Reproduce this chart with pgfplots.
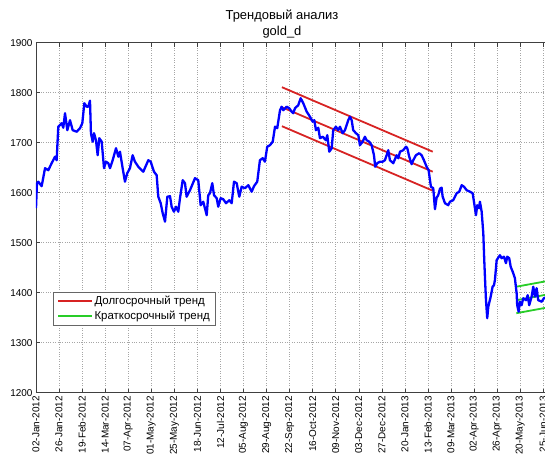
\documentclass[border=0pt]{standalone}
\usepackage{fontspec}
\setmainfont{Liberation Sans}
\usepackage{pgfplots}
\pgfplotsset{compat=1.18}
\definecolor{mred}{RGB}{215,35,35}
\definecolor{mgreen}{RGB}{40,205,40}
\definecolor{mblue}{RGB}{0,0,255}
\pgfplotstableread{
d v
0 1569
1.0 1619
2.4 1622
5.9 1613
9.4 1649
12.8 1645
16.3 1659
19.8 1672
21.5 1665
23.2 1732
26.7 1739
28.4 1730
30.2 1759
32.6 1725
35.4 1745
38.2 1725
42.4 1722
45.8 1729
48.2 1739
50.3 1779
52.8 1772
54.4 1772
56.2 1784
57.2 1719
59.0 1702
60.4 1719
62.4 1705
64.2 1675
65.9 1709
68.4 1702
70.8 1649
72.9 1662
75.3 1659
77.0 1649
79.8 1665
83.3 1689
85.7 1672
87.4 1682
90.2 1649
92.6 1622
95.0 1639
97.8 1649
100.6 1675
103.0 1662
106.5 1652
111.7 1642
116.9 1665
119.4 1662
122.8 1642
125.6 1635
127.3 1592
129.8 1579
131.9 1559
134.3 1542
136.7 1592
139.5 1593
141.2 1572
143.6 1562
145.7 1572
148.1 1562
149.9 1589
152.7 1625
155.1 1619
156.8 1592
160.3 1605
165.5 1629
168.9 1625
171.4 1575
174.1 1582
177.7 1555
179.3 1595
181.1 1599
183.5 1619
185.3 1595
188.1 1589
189.7 1572
192.2 1589
194.9 1587
197.8 1579
201.2 1585
203.7 1579
206.1 1622
208.9 1619
211.6 1592
214.1 1612
217.5 1609
221.0 1615
224.5 1602
226.9 1613
230.3 1622
233.1 1665
236.0 1669
238.3 1662
240.7 1692
243.5 1695
246.4 1702
248.8 1732
251.1 1729
254.0 1765
255.7 1772
257.4 1765
260.9 1772
263.6 1769
266.1 1762
267.8 1759
269.6 1769
273.0 1775
275.5 1789
278.2 1779
281.8 1762
285.2 1752
288.0 1742
289.7 1745
291.4 1725
293.8 1730
295.6 1709
298.4 1712
301.8 1705
303.2 1715
305.3 1682
307.8 1689
309.4 1725
312.2 1732
314.6 1725
316.4 1732
319.2 1719
321.6 1725
325.0 1745
326.8 1752
328.6 1745
330.2 1725
333.1 1719
335.5 1715
337.2 1695
340.0 1702
342.4 1712
344.2 1705
346.9 1702
349.4 1695
351.8 1675
353.1 1652
355.2 1659
358.0 1662
360.8 1662
363.2 1665
365.0 1675
366.7 1685
368.4 1665
371.9 1659
375.4 1675
377.1 1669
378.9 1682
382.3 1685
385.1 1692
386.5 1689
388.5 1672
391.0 1657
392.7 1665
395.5 1675
398.9 1679
401.4 1675
403.8 1665
406.6 1652
408.7 1645
410.1 1625
411.1 1612
413.5 1609
415.3 1567
417.0 1590
418.7 1595
420.5 1608
422.2 1610
423.3 1592
425.7 1579
429.1 1575
430.9 1582
434.3 1585
437.9 1599
440.6 1602
443.1 1615
445.5 1612
448.3 1605
451.7 1602
454.5 1599
455.9 1582
458.0 1555
459.3 1575
461.1 1569
462.1 1582
463.9 1562
465.6 1519
466.6 1465
467.6 1419
468.4 1385
469.7 1349
470.8 1372
473.3 1392
475.3 1412
476.7 1415
477.7 1425
479.5 1465
482.9 1475
484.7 1469
487.1 1472
489.2 1459
490.5 1472
492.6 1469
494.1 1452
496.2 1442
498.5 1429
500.3 1399
500.9 1375
502.4 1362
503.7 1382
505.5 1375
507.2 1389
510.0 1385
511.8 1395
513.4 1375
515.9 1392
517.6 1412
519.4 1392
521.1 1409
522.8 1385
526.4 1382
528.7 1389
532.0 1392
}\gold
\begin{document}
\begin{tikzpicture}[x=1bp,y=1bp]
\begin{axis}[
  at={(0,0)}, anchor=south west,
  scale only axis, width=513bp, height=350bp,
  xmin=0, xmax=534, ymin=1200, ymax=1900,
  xtick={0,24,...,528},
  xticklabels={02-Jan-2012,26-Jan-2012,19-Feb-2012,14-Mar-2012,07-Apr-2012,01-May-2012,25-May-2012,18-Jun-2012,12-Jul-2012,05-Aug-2012,29-Aug-2012,22-Sep-2012,16-Oct-2012,09-Nov-2012,03-Dec-2012,27-Dec-2012,20-Jan-2013,13-Feb-2013,09-Mar-2013,02-Apr-2013,26-Apr-2013,20-May-2013,25-Jun-2013},
  ytick={1200,1300,...,1900},
  /pgf/number format/1000 sep={},
  /pgf/number format/assume math mode=true,
  x tick label style={rotate=90, anchor=east, font=\fontsize{10}{12}\selectfont},
  y tick label style={font=\fontsize{10}{12}\selectfont},
  tick align=inside, major tick length=4bp,
  tick style={black!75, line width=0.5bp},
  axis line style={black!75, line width=0.6bp},
  grid=major, grid style={dotted, black!35, line width=0.5bp},
  title={Трендовый анализ\\gold\_d},
  title style={at={(0.4795,1)}, anchor=south, align=center, inner sep=0pt, yshift=-1.5bp, font=\fontsize{13}{16}\selectfont},
  legend style={at={(rel axis cs:0.0331,0.2877)}, anchor=north west, draw=black!60, line width=0.5bp,
    font=\fontsize{11.5}{13}\selectfont, inner xsep=4bp, inner ysep=2.5bp, row sep=1.5bp,
    nodes={inner sep=1.5bp}},
  legend cell align=left,
  legend image code/.code={\draw[#1] (0bp,0bp) -- (34bp,0bp);},
  clip=true,
]
\addplot[mred, line width=1.8bp] coordinates {(256,1811) (413,1682)};
\addlegendentry{Долгосрочный тренд}
\addplot[mgreen, line width=1.8bp] coordinates {(500,1412) (534,1424)};
\addlegendentry{Краткосрочный тренд}
\addplot[mred, line width=1.8bp, forget plot] coordinates {(256,1771) (413,1642)};
\addplot[mred, line width=1.8bp, forget plot] coordinates {(256,1733) (413,1604)};
\addplot[mgreen, line width=1.8bp, forget plot] coordinates {(500,1385) (534,1397)};
\addplot[mgreen, line width=1.8bp, forget plot] coordinates {(500,1359) (534,1371)};
\addplot[mblue, line width=2.3bp, line join=round, forget plot] table[x=d, y=v] {\gold};
\end{axis}
\pgfresetboundingbox
\path (-36bp,-68.3bp) rectangle (509bp,392.7bp);
\end{tikzpicture}
\end{document}
